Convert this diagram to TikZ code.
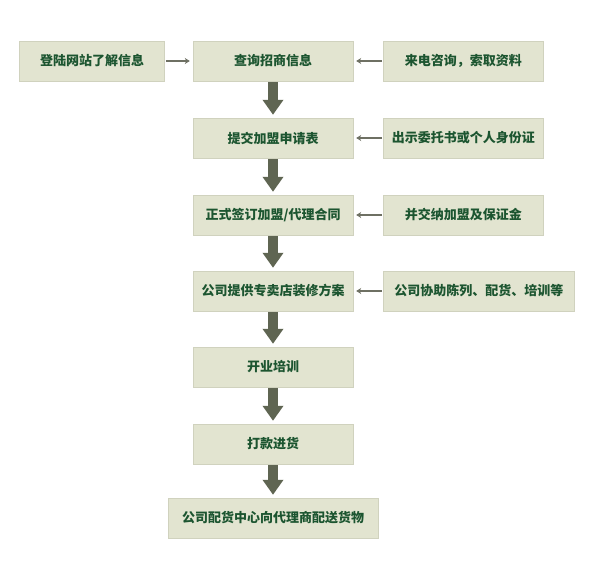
\documentclass[tikz,border=0pt]{standalone}
\usepackage{fontspec}
\setmainfont{Noto Sans CJK SC}
\usetikzlibrary{arrows.meta, positioning}
\definecolor{boxfill}{HTML}{E2E4D0}
\definecolor{boxline}{HTML}{D0D2BE}
\definecolor{boxtext}{HTML}{1C5530}
\definecolor{bigarrow}{HTML}{5F6552}
\definecolor{smallarrow}{HTML}{6E7063}

\begin{document}
\begin{tikzpicture}[x=1pt,y=-1pt,node distance=30pt,
    stage/.style={draw=boxline,fill=boxfill,text=boxtext,font=\fontsize{13pt}{15pt}\selectfont\bfseries,
                  minimum width=160pt,minimum height=40pt,inner sep=2pt},
    down/.style={line width=10pt,draw=bigarrow,-{Triangle[length=15pt,width=20pt]},shorten <=1pt,shorten >=3pt},
    side/.style={line width=2.2pt,draw=smallarrow,-{Stealth[length=5pt,width=6pt]},shorten <=1pt,shorten >=3pt}]
    \useasboundingbox (0,0) rectangle (610,570);

    \node[stage] (S1) at (273,61) {查询招商信息};
    \node[stage] (S2) at (273,138) {提交加盟申请表};
    \node[stage] (S3) at (273,215) {正式签订加盟/代理合同};
    \node[stage] (S4) at (273,291) {公司提供专卖店装修方案};
    \node[stage] (S5) at (273,367) {开业培训};
    \node[stage] (S6) at (273,444) {打款进货};
    \node[stage,minimum width=210pt] (S7) at (273,518) {公司配货中心向代理商配送货物};

    \node[stage,minimum width=145pt] (S1_L) [left=28pt of S1] {登陆网站了解信息};
    \node[stage] (S1_R) [right=of S1] {来电咨询，索取资料};
    \node[stage] (S2_R) [right=of S2] {出示委托书或个人身份证};
    \node[stage] (S3_R) [right=of S3] {并交纳加盟及保证金};
    \node[stage,minimum width=191pt] (S4_R) [right=of S4] {公司协助陈列、配货、培训等};

    % main flow
    \draw[down] (S1) -- (S2);
    \draw[down] (S2) -- (S3);
    \draw[down] (S3) -- (S4);
    \draw[down] (S4) -- (S5);
    \draw[down] (S5) -- (S6);
    \draw[down] (S6) -- (S7);

    % side inputs
    \draw[side] (S1_L) -- (S1);
    \draw[side] (S1_R) -- (S1);
    \draw[side] (S2_R) -- (S2);
    \draw[side] (S3_R) -- (S3);
    \draw[side] (S4_R) -- (S4);

\end{tikzpicture}
\end{document}
